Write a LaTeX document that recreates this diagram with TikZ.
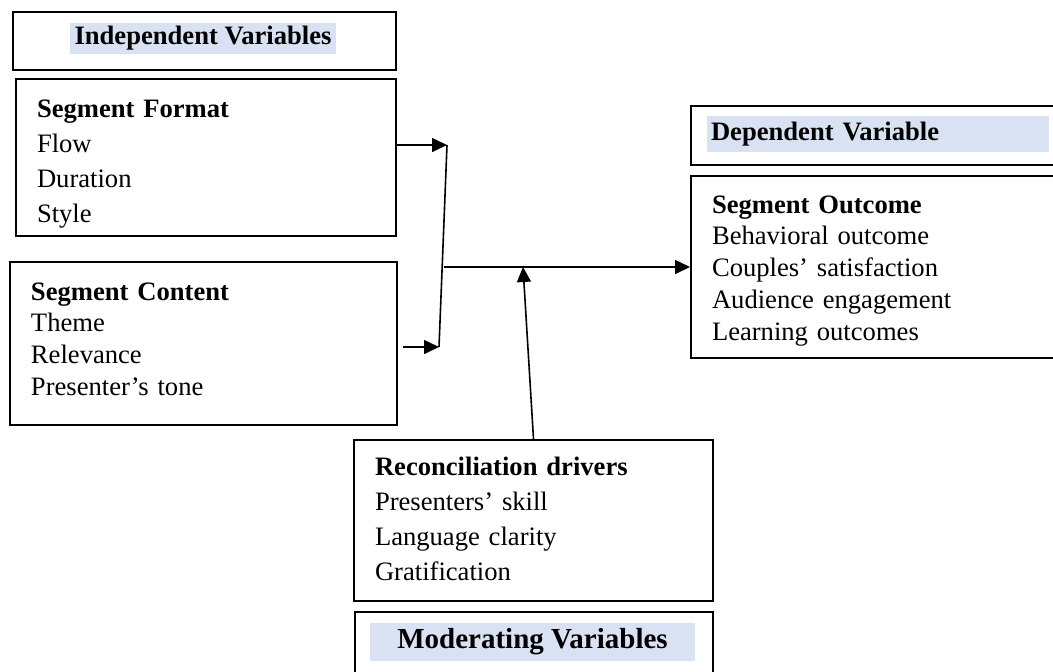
\documentclass[tikz,border=0pt]{standalone}
\usepackage{fontspec}
\setmainfont{Liberation Serif}
\usepackage{xcolor}
\usetikzlibrary{arrows.meta}
\usetikzlibrary{positioning}
\definecolor{hlblue}{HTML}{D9E2F3}

\begin{document}
\begin{tikzpicture}
        [x=0.5pt, y=-0.5pt,
        varbox/.style={rectangle,draw=black,line width=1pt,anchor=north west,align=left,inner xsep=10.5pt,inner ysep=0pt},
        headbox/.style={rectangle,draw=black,line width=1pt,anchor=north west,inner sep=0pt},
        headlbl/.style={fill=hlblue,inner ysep=0pt,font=\fontsize{13.3}{16}\selectfont\bfseries},
        feed/.style={-{Triangle[length=7.5pt,width=7pt]},line width=0.8pt},
        joint/.style={-,line width=0.8pt}]

\useasboundingbox (0,0) rectangle (1053,671);

\begin{scope}

% headings
\node[headbox,minimum width=191.5pt,minimum height=29pt] at (12,11) (indep) {};
\node[headlbl,inner xsep=2.5pt,minimum height=15.5pt] at (203,38.5) (indeplbl) {Independent Variables};

\node[headbox,minimum width=186pt,minimum height=29.5pt] at (690,105) (dep) {};
\node[headlbl,inner xsep=2pt,text width=167pt,align=left,minimum height=18pt] at (878,134) (deplbl) {Dependent Variable};

\node[headbox,minimum width=179pt,minimum height=45pt] at (354,611) (mod) {};
\node[headlbl,font=\fontsize{14.5}{17}\selectfont\bfseries,minimum width=162.5pt,minimum height=19pt] at (532.5,642) (modlbl) {Moderating Variables};

% variables
\node[varbox,text width=169pt,text height=19pt,text depth=59.5pt,font=\fontsize{13.3}{17.5}\selectfont] at (15,78) (format)
  {\textbf{Segment Format}\\Flow\\Duration\\Style};

\node[varbox,text width=172.5pt,text height=19pt,text depth=62.5pt,font=\fontsize{13.3}{15.9}\selectfont] at (9,261) (content)
  {\textbf{Segment Content}\\Theme\\Relevance\\Presenter’s tone};

\node[varbox,text width=165pt,text height=18.5pt,text depth=72.5pt,font=\fontsize{13.3}{15.9}\selectfont] at (690,175) (outcome)
  {\textbf{Segment Outcome}\\Behavioral outcome\\Couples’ satisfaction\\Audience engagement\\Learning outcomes};

\node[varbox,text width=158.5pt,text height=17.5pt,text depth=63pt,font=\fontsize{13.3}{17.6}\selectfont] at (353,439) (drivers)
  {\textbf{Reconciliation drivers}\\Presenters’ skill\\Language clarity\\Gratification};

% junctions
\coordinate (top) at (447,145);
\coordinate (low) at (439,347);
\coordinate (mid) at (444,267);
\coordinate (hit) at (523,267);

%arrows
\draw[feed] (format.east |- top) -- (top);
\draw[feed] ([xshift=2.5pt]content.east |- low) -- (low);
\draw[joint] (top) -- (low);
\draw[feed] (mid) -- (mid -| outcome.west);
\draw[feed] (drivers.north) -- (hit);

\end{scope}

\end{tikzpicture}
\end{document}
